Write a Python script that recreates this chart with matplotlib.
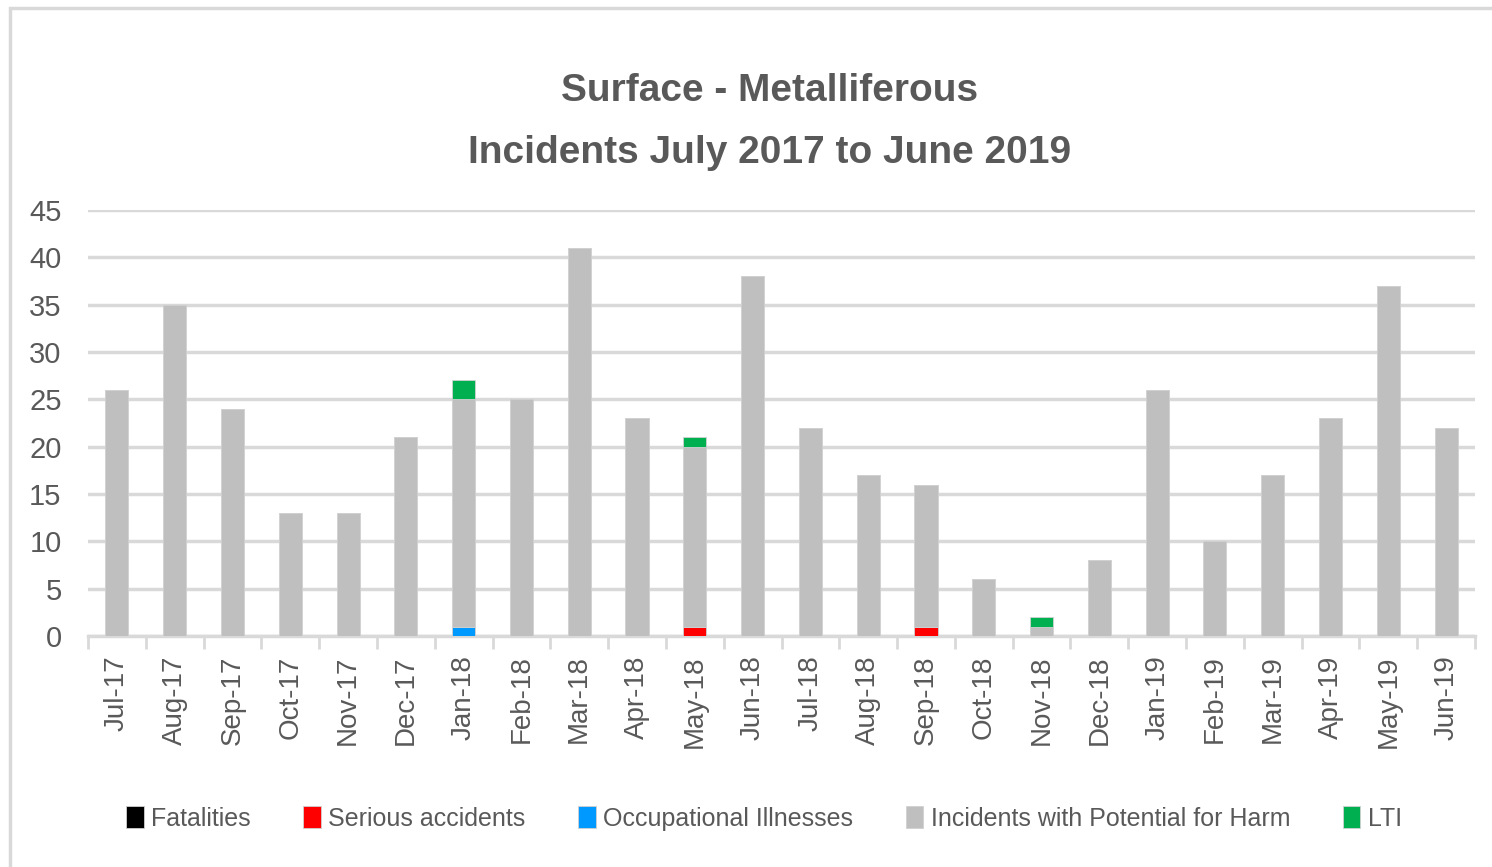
import numpy as np
import matplotlib
matplotlib.use("Agg")
from matplotlib import pyplot as plt
from matplotlib.patches import Rectangle

months = ['Jul-17', 'Aug-17', 'Sep-17', 'Oct-17', 'Nov-17', 'Dec-17',
          'Jan-18', 'Feb-18', 'Mar-18', 'Apr-18', 'May-18', 'Jun-18',
          'Jul-18', 'Aug-18', 'Sep-18', 'Oct-18', 'Nov-18', 'Dec-18',
          'Jan-19', 'Feb-19', 'Mar-19', 'Apr-19', 'May-19', 'Jun-19']
fatalities = [0, 0, 0, 0, 0, 0, 0, 0, 0, 0, 0, 0,
              0, 0, 0, 0, 0, 0, 0, 0, 0, 0, 0, 0]
serious = [0, 0, 0, 0, 0, 0, 0, 0, 0, 0, 1, 0,
           0, 0, 1, 0, 0, 0, 0, 0, 0, 0, 0, 0]
occupational = [0, 0, 0, 0, 0, 0, 1, 0, 0, 0, 0, 0,
                0, 0, 0, 0, 0, 0, 0, 0, 0, 0, 0, 0]
potential_harm = [26, 35, 24, 13, 13, 21, 24, 25, 41, 23, 19, 38,
                  22, 17, 15, 6, 1, 8, 26, 10, 17, 23, 37, 22]
lti = [0, 0, 0, 0, 0, 0, 2, 0, 0, 0, 1, 0,
       0, 0, 0, 0, 1, 0, 0, 0, 0, 0, 0, 0]

series = [
    ("Fatalities", fatalities, "#000000"),
    ("Serious accidents", serious, "#ff0000"),
    ("Occupational Illnesses", occupational, "#0099ff"),
    ("Incidents with Potential for Harm", potential_harm, "#bfbfbf"),
    ("LTI", lti, "#00b050"),
]

plt.rcParams['font.family'] = ['Liberation Sans', 'DejaVu Sans']
text_col = '#595959'
grid_col = '#d9d9d9'

fig = plt.figure(figsize=(14.92, 8.67), dpi=100)
# light frame around the chart area (cut off at right / bottom like the source)
fig.patches.append(Rectangle((10 / 1492, -0.1), 1.2, 1 - 8 / 867 + 0.1,
                             transform=fig.transFigure, fill=False,
                             edgecolor=grid_col, linewidth=2.5))
ax = fig.add_axes([88 / 1492, 1 - 636 / 867, (1475 - 88) / 1492, (636 - 210) / 867])

x = np.arange(len(months))
bottom = np.zeros(len(months))
for name, vals, col in series:
    vals = np.array(vals, dtype=float)
    ax.bar(x, vals, 0.4, bottom=bottom, color=col, label=name,
           edgecolor='#d0d0d0', linewidth=0.6, zorder=3)
    bottom += vals

ax.set_ylim(0, 45)
ax.set_xlim(-0.5, len(months) - 0.5)
ax.set_yticks(range(0, 46, 5))
ax.yaxis.grid(True, color=grid_col, linewidth=2.5, zorder=0)
ax.set_axisbelow(True)
for s in ['top', 'right', 'left']:
    ax.spines[s].set_visible(False)
ax.spines['bottom'].set_color(grid_col)
ax.spines['bottom'].set_linewidth(2.5)

ax.set_xticks(x)
ax.set_xticklabels(months, rotation=90, fontsize=20, color=text_col)
ax.tick_params(axis='x', length=0, pad=14)
ax.set_xticks(np.arange(-0.5, len(months)), minor=True)
ax.tick_params(axis='x', which='minor', length=9, width=2, color=grid_col)
ax.tick_params(axis='y', length=0, labelsize=21, labelcolor=text_col, pad=19)

fig.text(0.516, 0.895, "Surface - Metalliferous", ha='center', va='center',
         fontsize=28, fontweight='bold', color=text_col)
fig.text(0.516, 0.823, "Incidents July 2017 to June 2019", ha='center', va='center',
         fontsize=28, fontweight='bold', color=text_col)

handles, labels = ax.get_legend_handles_labels()
fig.legend(handles, labels, loc='center', bbox_to_anchor=(0.512, 0.056), ncol=5,
           frameon=False, fontsize=18, labelcolor=text_col, handlelength=0.7,
           handleheight=1.0, handletextpad=0.3, columnspacing=2.1)

fig.savefig("out.png", dpi=100)
